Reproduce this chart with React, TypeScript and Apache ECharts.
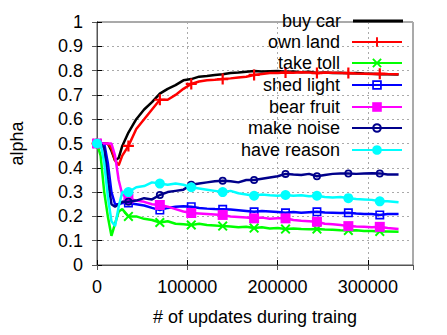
import React, { useEffect, useRef } from "react";
import * as echarts from "echarts";

// shared x sampling (# of updates)
const X = [0, 4000, 8000, 12000, 16000, 20000, 24000, 28000, 34800, 43500, 52200, 60900, 69600, 78300, 87000, 95700, 104400, 113100, 121800, 130500, 139200, 147900, 156600, 165300, 174000, 182700, 191400, 200100, 208800, 217500, 226200, 234900, 243600, 252300, 261000, 269700, 278400, 287100, 295800, 304500, 313200, 321900, 334000];

const NAMES = ["buy car", "own land", "take toll", "shed light", "bear fruit", "make noise", "have reason"];

const buyCar = [0.5, 0.5, 0.5, 0.5, 0.47, 0.43, 0.44, 0.49, 0.545, 0.6, 0.64, 0.67, 0.705, 0.725, 0.74, 0.76, 0.765, 0.775, 0.778, 0.782, 0.785, 0.79, 0.792, 0.795, 0.798, 0.796, 0.797, 0.798, 0.795, 0.796, 0.793, 0.795, 0.79, 0.792, 0.79, 0.791, 0.789, 0.79, 0.788, 0.787, 0.785, 0.785, 0.784];
const ownLand = [0.5, 0.5, 0.5, 0.5, 0.48, 0.43, 0.41, 0.45, 0.49, 0.56, 0.6, 0.64, 0.68, 0.68, 0.7, 0.725, 0.745, 0.755, 0.76, 0.762, 0.765, 0.768, 0.772, 0.775, 0.782, 0.786, 0.79, 0.79, 0.792, 0.791, 0.793, 0.792, 0.79, 0.792, 0.791, 0.79, 0.79, 0.788, 0.787, 0.786, 0.787, 0.786, 0.785];
const takeToll = [0.5, 0.45, 0.3, 0.2, 0.12, 0.17, 0.22, 0.23, 0.2, 0.2, 0.19, 0.185, 0.175, 0.18, 0.17, 0.168, 0.165, 0.17, 0.165, 0.163, 0.16, 0.158, 0.155, 0.157, 0.152, 0.155, 0.15, 0.152, 0.148, 0.15, 0.148, 0.147, 0.148, 0.146, 0.145, 0.143, 0.142, 0.143, 0.14, 0.14, 0.138, 0.138, 0.137];
const shedLight = [0.5, 0.5, 0.5, 0.42, 0.3, 0.25, 0.25, 0.255, 0.255, 0.25, 0.245, 0.235, 0.226, 0.235, 0.24, 0.242, 0.24, 0.235, 0.232, 0.23, 0.229, 0.228, 0.225, 0.222, 0.219, 0.222, 0.22, 0.218, 0.215, 0.218, 0.215, 0.217, 0.219, 0.216, 0.215, 0.214, 0.215, 0.212, 0.21, 0.21, 0.206, 0.21, 0.21];
const bearFruit = [0.5, 0.5, 0.5, 0.5, 0.5, 0.45, 0.35, 0.29, 0.274, 0.265, 0.26, 0.25, 0.247, 0.24, 0.23, 0.22, 0.214, 0.212, 0.21, 0.208, 0.206, 0.2, 0.198, 0.195, 0.192, 0.195, 0.19, 0.192, 0.192, 0.185, 0.182, 0.18, 0.178, 0.17, 0.168, 0.165, 0.16, 0.158, 0.157, 0.155, 0.157, 0.152, 0.148];
const makeNoise = [0.5, 0.5, 0.48, 0.35, 0.25, 0.24, 0.25, 0.26, 0.26, 0.265, 0.275, 0.27, 0.288, 0.3, 0.305, 0.31, 0.33, 0.335, 0.34, 0.345, 0.347, 0.345, 0.34, 0.35, 0.35, 0.355, 0.36, 0.365, 0.375, 0.372, 0.37, 0.375, 0.365, 0.37, 0.375, 0.377, 0.377, 0.375, 0.377, 0.378, 0.377, 0.372, 0.372];
const haveReason = [0.5, 0.5, 0.42, 0.28, 0.18, 0.16, 0.24, 0.3, 0.3, 0.32, 0.325, 0.34, 0.335, 0.33, 0.335, 0.33, 0.32, 0.315, 0.31, 0.305, 0.3, 0.305, 0.295, 0.29, 0.285, 0.29, 0.287, 0.285, 0.288, 0.285, 0.287, 0.283, 0.285, 0.28, 0.278, 0.28, 0.275, 0.272, 0.27, 0.268, 0.262, 0.262, 0.258];

const SERIES_VALUES = [buyCar, ownLand, takeToll, shedLight, bearFruit, makeNoise, haveReason];
const COLORS = ["#000000", "#ff0000", "#00ff00", "#0000ff", "#ff00ff", "#00008b", "#00ffff"];

const PLUS = "path://M4,0H6V4H10V6H6V10H4V6H0V4H4Z";
const CROSS = "path://M0,1.4L1.4,0L5,3.6L8.6,0L10,1.4L6.4,5L10,8.6L8.6,10L5,6.4L1.4,10L0,8.6L3.6,5Z";
const OPEN_SQUARE = "path://M0,0H10V10H0Z M1.8,1.8V8.2H8.2V1.8Z";
const RING = "path://M5,0A5,5 0 1 1 5,10A5,5 0 1 1 5,0Z M5,2.2A2.8,2.8 0 1 0 5,7.8A2.8,2.8 0 1 0 5,2.2Z";
const SYMBOLS = ["none", PLUS, CROSS, OPEN_SQUARE, "rect", RING, "circle"];
const SIZES = [0, 11, 10, 9, 10, 8, 10];

const LEGEND_CENTERS = [21, 42, 63, 85, 107, 128, 150];

const isMarker = (i: number) => i === 0 || (i >= 8 && (i - 8) % 4 === 0);

export default function App() {
  const ref = useRef<HTMLDivElement>(null);
  useEffect(() => {
    if (!ref.current) return;
    const chart = echarts.init(ref.current, undefined, { renderer: "svg" });
    const font = "Liberation Sans";
    const FS = 18;
    const series = NAMES.map((name, s) => ({
      name,
      type: "line",
      symbol: SYMBOLS[s],
      symbolSize: SIZES[s],
      symbolKeepAspect: true,
      color: COLORS[s],
      lineStyle: { width: 2.5, color: COLORS[s] },
      itemStyle: { color: COLORS[s] },
      z: 2 + s,
      data: X.map((x, i) =>
        isMarker(i) && SYMBOLS[s] !== "none"
          ? [x, SERIES_VALUES[s][i]]
          : { value: [x, SERIES_VALUES[s][i]], symbol: "none" }
      ),
    }));
    const legends = NAMES.map((name, s) => {
      const lineOnly = SYMBOLS[s] === "none";
      return {
        data: [name],
        right: 44,
        top: LEGEND_CENTERS[s] - 10,
        orient: "horizontal",
        align: "right",
        padding: 0,
        icon: lineOnly ? "rect" : undefined,
        itemWidth: 50,
        itemHeight: lineOnly ? 3 : 12,
        selectedMode: false,
        textStyle: { fontSize: FS, color: "#000", fontFamily: font, padding: [0, 7, 0, 0], lineHeight: 20 },
      };
    });
    chart.setOption({
      animation: false,
      textStyle: { fontFamily: font },
      grid: { left: 95, right: 34, top: 22, bottom: 70, show: true, borderColor: "#555", borderWidth: 1 },
      legend: legends,
      xAxis: [
        {
          type: "value",
          min: 0,
          max: 350000,
          interval: 100000,
          name: "# of updates during traing",
          nameLocation: "middle",
          nameGap: 43,
          nameTextStyle: { fontSize: FS, color: "#000", fontFamily: font },
          axisLine: { show: true, lineStyle: { color: "#000", width: 1 } },
          axisTick: { show: true, inside: true, length: 5, lineStyle: { color: "#000" } },
          axisLabel: {
            fontSize: FS,
            color: "#000",
            margin: 13,
            showMaxLabel: false,
            fontFamily: font,
            formatter: (v: number) => String(v),
          },
          splitLine: { show: true, lineStyle: { color: "#aaa", type: [2, 3], width: 1 } },
        },
        {
          type: "value",
          position: "top",
          min: 0,
          max: 350000,
          interval: 100000,
          axisLine: { show: true, lineStyle: { color: "#555" } },
          axisTick: { show: true, inside: true, length: 5, lineStyle: { color: "#555" } },
          axisLabel: { show: false },
          splitLine: { show: false },
        },
      ],
      yAxis: [
        {
          type: "value",
          min: 0,
          max: 1,
          interval: 0.1,
          name: "alpha",
          nameLocation: "middle",
          nameGap: 71,
          nameTextStyle: { fontSize: FS, color: "#000", fontFamily: font },
          axisLine: { show: true, lineStyle: { color: "#000", width: 1 } },
          axisTick: { show: true, inside: true, length: 5, lineStyle: { color: "#000" } },
          axisLabel: { fontSize: FS, color: "#000", margin: 14, fontFamily: font },
          splitLine: { show: true, lineStyle: { color: "#aaa", type: [2, 3], width: 1 } },
        },
        {
          type: "value",
          position: "right",
          min: 0,
          max: 1,
          interval: 0.1,
          axisLine: { show: true, lineStyle: { color: "#555" } },
          axisTick: { show: true, inside: true, length: 5, lineStyle: { color: "#555" } },
          axisLabel: { show: false },
          splitLine: { show: false },
        },
      ],
      series,
    });
    return () => chart.dispose();
  }, []);
  return (
    <div
      ref={ref}
      style={{ position: "fixed", left: 0, top: 0, width: 447, height: 335, background: "#fff" }}
    />
  );
}
